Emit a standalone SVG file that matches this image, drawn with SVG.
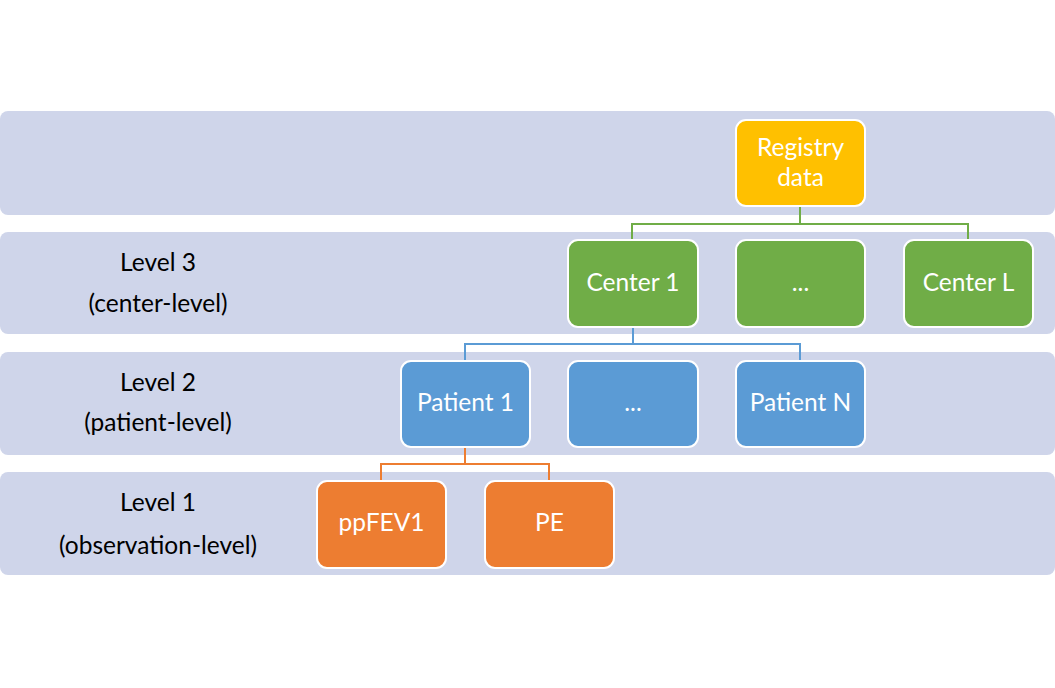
<svg xmlns="http://www.w3.org/2000/svg" width="1055" height="688" viewBox="0 0 1055 688">
<style>
.band{fill:#CFD5EA}
.node{stroke:#FFFFFF;stroke-width:2}
.y{fill:#FFC000}.g{fill:#70AD47}.b{fill:#5B9BD5}.o{fill:#ED7D31}
.nt{font-family:Lato,"Open Sans","Liberation Sans",sans-serif;font-size:24.5px;fill:#FFFFFF;text-anchor:middle}
.lt{font-family:Lato,"Open Sans","Liberation Sans",sans-serif;font-size:24.5px;fill:#000000;text-anchor:middle}
.c{fill:none;stroke-width:2}
</style>
<rect width="1055" height="688" fill="#FFFFFF"/>
<g id="bands">
<rect class="band" x="0" y="111" width="1055" height="104" rx="8"/>
<rect class="band" x="0" y="232" width="1055" height="102" rx="8"/>
<rect class="band" x="0" y="352" width="1055" height="103" rx="8"/>
<rect class="band" x="0" y="472" width="1055" height="103" rx="8"/>
</g>
<g id="level-labels">
<text class="lt" x="158" y="271">Level 3</text>
<text class="lt" x="158" y="312">(center-level)</text>
<text class="lt" x="158" y="391">Level 2</text>
<text class="lt" x="158" y="431">(patient-level)</text>
<text class="lt" x="158" y="511">Level 1</text>
<text class="lt" x="158" y="554">(observation-level)</text>
</g>
<g id="connectors">
<path class="c" stroke="#70AD47" d="M800 206V224M632 240V224H968V240"/>
<path class="c" stroke="#5B9BD5" d="M633 327V344M465 361V344H800V361"/>
<path class="c" stroke="#ED7D31" d="M465 447V464M381 481V464H549V481"/>
</g>
<g id="registry">
<rect class="node y" x="736" y="120" width="129" height="86" rx="10"/>
<text class="nt" x="800.5" y="156">Registry</text>
<text class="nt" x="800.5" y="186">data</text>
</g>
<g id="center1">
<rect class="node g" x="568" y="240" width="130" height="87" rx="10"/>
<text class="nt" x="633" y="291">Center 1</text>
</g>
<g id="center-dots">
<rect class="node g" x="736" y="240" width="129" height="87" rx="10"/>
<text class="nt" x="800.5" y="291">...</text>
</g>
<g id="centerL">
<rect class="node g" x="904" y="240" width="129" height="87" rx="10"/>
<text class="nt" x="968.5" y="291">Center L</text>
</g>
<g id="patient1">
<rect class="node b" x="401" y="361" width="129" height="86" rx="10"/>
<text class="nt" x="465.5" y="411">Patient 1</text>
</g>
<g id="patient-dots">
<rect class="node b" x="568" y="361" width="130" height="86" rx="10"/>
<text class="nt" x="633" y="411">...</text>
</g>
<g id="patientN">
<rect class="node b" x="736" y="361" width="129" height="86" rx="10"/>
<text class="nt" x="800.5" y="411">Patient N</text>
</g>
<g id="ppfev1">
<rect class="node o" x="317" y="481" width="129" height="87" rx="10"/>
<text class="nt" x="381.5" y="531">ppFEV1</text>
</g>
<g id="pe">
<rect class="node o" x="485" y="481" width="129" height="87" rx="10"/>
<text class="nt" x="549.5" y="531">PE</text>
</g>
</svg>
